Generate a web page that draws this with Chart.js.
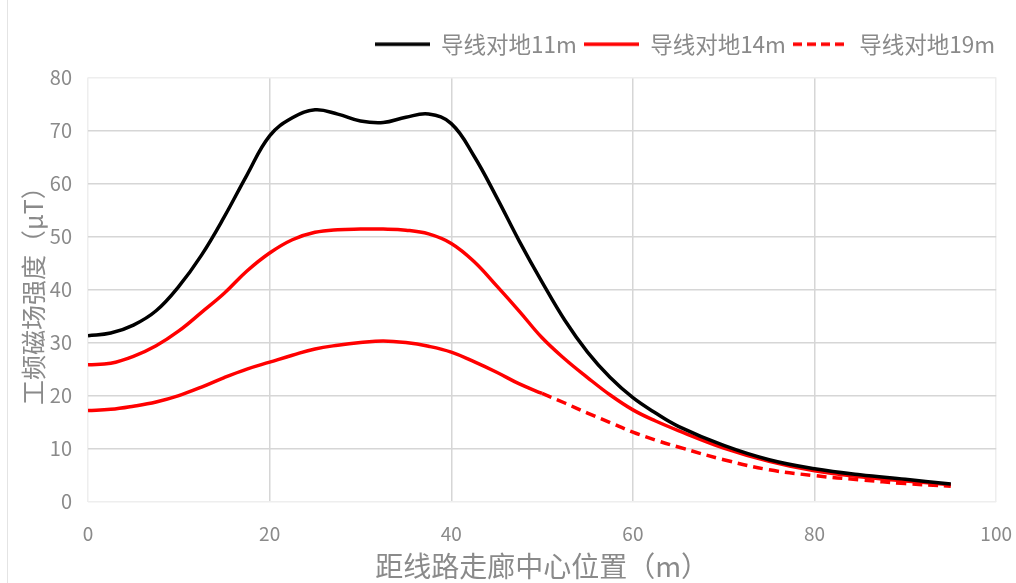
<!DOCTYPE html>
<html lang="zh">
<head>
  <meta charset="UTF-8"/>
  <title>工频磁场强度</title>
  <script src="https://cdn.jsdelivr.net/npm/chart.js"></script>
  <style>
    html, body { margin: 0; padding: 0; background: #fff; }
    .wrap {
      position: relative;
      width: 1016px;
      height: 583px;
    }
    .frame {
      position: absolute;
      left: 7px; top: 0; bottom: 0;
      border-left: 1px solid #e4e4e4;
    }
    canvas { display: block; }
  </style>
</head>
<body>
  <div class="wrap">
    <div class="frame"></div>
    <canvas id="chart" width="1016" height="583"></canvas>
  </div>
  <script>
    // distance from corridor centre (m)
    const xPos = [0, 2.5, 5, 7.5, 10, 12.5, 15, 17.5, 20, 22.5, 25, 27.5, 30, 32.5, 35, 37.5, 40, 42.5,
                  45, 47.5, 50, 52.5, 55, 57.5, 60, 62.5, 65, 70, 75, 80, 85, 90, 95];
    // field strength (μT) per conductor height
    const h11 = [31.3, 31.8, 33.3, 36.0, 40.6, 46.5, 53.7, 61.6, 69.0, 72.4, 73.9, 73.1, 71.8, 71.5, 72.5, 73.1, 71.3, 65.2,
                 57.4, 49.1, 41.4, 34.2, 28.2, 23.4, 19.6, 16.7, 14.2, 10.6, 7.9, 6.2, 5.05, 4.2, 3.3];
    const h14 = [25.8, 26.1, 27.4, 29.4, 32.2, 35.7, 39.3, 43.5, 46.9, 49.4, 50.8, 51.3, 51.4, 51.4, 51.2, 50.5, 48.7, 45.3,
                 40.7, 35.9, 30.9, 26.9, 23.4, 20.1, 17.3, 15.2, 13.4, 10.1, 7.6, 5.8, 4.7, 3.9, 3.2];
    const h19 = [17.2, 17.4, 18.0, 18.8, 20.0, 21.6, 23.4, 25.0, 26.3, 27.6, 28.8, 29.5, 30.0, 30.3, 30.0, 29.3, 28.2, 26.4,
                 24.4, 22.2, 20.4, 18.6, 16.7, 14.9, 13.1, 11.6, 10.3, 7.9, 6.0, 4.9, 4.1, 3.4, 2.9];
    const seriesNames = ["导线对地11m", "导线对地14m", "导线对地19m"];
    const xTicks = [0, 20, 40, 60, 80, 100];
    const yTicks = [0, 10, 20, 30, 40, 50, 60, 70, 80];

    const FONT = "'Noto Sans CJK SC', 'Noto Sans', sans-serif";
    const GREY = "#8a8a8a";
    const DASH = [10, 6];

    const toPts = ys => xPos.map((x, i) => ({ x, y: ys[i] }));

    // small canvases used as legend symbols
    function legendSym(color, dash) {
      const c = document.createElement("canvas");
      c.width = 55; c.height = 6;
      const g = c.getContext("2d");
      g.strokeStyle = color;
      g.lineWidth = 3.5;
      g.setLineDash(dash || []);
      g.beginPath();
      g.moveTo(0, 3); g.lineTo(55, 3);
      g.stroke();
      return c;
    }
    const syms = [legendSym("#000000"), legendSym("#ff0000"), legendSym("#ff0000", [9, 5])];

    const edgeGrid = (ctx, max) =>
      (ctx.tick && (ctx.tick.value === 0 || ctx.tick.value === max)) ? "#eeeeee" : "#d6d6d6";

    // leave extra room between legend and plot
    const legendGap = {
      id: "legendGap",
      afterInit(chart) {
        const fit = chart.legend.fit;
        chart.legend.fit = function () { fit.call(this); this.height += 12; };
      }
    };

    new Chart(document.getElementById("chart"), {
      type: "line",
      data: {
        datasets: [
          { label: seriesNames[0], data: toPts(h11), borderColor: "#000000" },
          { label: seriesNames[1], data: toPts(h14), borderColor: "#ff0000" },
          {
            label: seriesNames[2], data: toPts(h19), borderColor: "#ff0000",
            segment: { borderDash: ctx => ctx.p0.parsed.x >= 50 ? DASH : undefined }
          }
        ]
      },
      plugins: [legendGap],
      options: {
        responsive: false,
        animation: false,
        layout: { padding: { left: 18, right: 14, top: 26, bottom: 0 } },
        elements: {
          point: { radius: 0 },
          line: { borderWidth: 3.5, tension: 0.4, fill: false }
        },
        plugins: {
          tooltip: { enabled: false },
          legend: {
            position: "top",
            align: "end",
            labels: {
              color: GREY,
              font: { family: FONT, size: 22.5 },
              usePointStyle: true,
              pointStyleWidth: 55,
              padding: 7,
              generateLabels: chart => chart.data.datasets.map((ds, i) => ({
                text: ds.label,
                pointStyle: syms[i],
                fontColor: GREY,
                lineWidth: 0,
                datasetIndex: i
              }))
            }
          }
        },
        scales: {
          x: {
            type: "linear",
            min: xTicks[0],
            max: xTicks[xTicks.length - 1],
            afterBuildTicks: axis => { axis.ticks = xTicks.map(v => ({ value: v })); },
            grid: {
              color: ctx => edgeGrid(ctx, 100), lineWidth: 1.5,
              drawTicks: true, tickLength: 17, tickColor: "rgba(0,0,0,0)"
            },
            border: { display: false },
            ticks: { color: GREY, font: { family: FONT, size: 19 }, padding: 4, maxRotation: 0 },
            title: {
              display: true,
              text: "距线路走廊中心位置（m）",
              color: GREY,
              font: { family: FONT, size: 28 },
              padding: { top: 0, bottom: 0 }
            }
          },
          y: {
            min: yTicks[0],
            max: yTicks[yTicks.length - 1],
            afterBuildTicks: axis => { axis.ticks = yTicks.map(v => ({ value: v })); },
            afterFit: axis => { axis.width = 70; },
            grid: {
              color: ctx => edgeGrid(ctx, 80), lineWidth: 1.5,
              drawTicks: true, tickLength: 12, tickColor: "rgba(0,0,0,0)"
            },
            border: { display: false },
            ticks: { color: GREY, font: { family: FONT, size: 20 }, padding: 4 },
            title: {
              display: true,
              text: "工频磁场强度（μT）",
              color: GREY,
              font: { family: FONT, size: 25 },
              padding: { top: 0, bottom: 0 }
            }
          }
        }
      }
    });
  </script>
</body>
</html>
